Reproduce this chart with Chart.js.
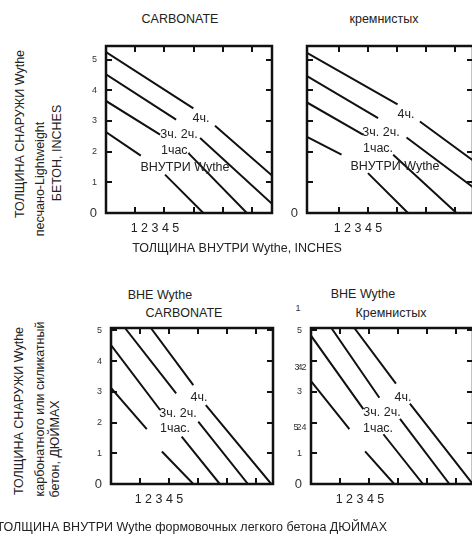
<!DOCTYPE html>
<html>
<head>
<meta charset="utf-8">
<script src="https://cdn.jsdelivr.net/npm/chart.js@4.4.0/dist/chart.umd.min.js"></script>
<style>
  html, body { margin: 0; padding: 0; background: #fff; overflow: hidden; }
  body { width: 472px; height: 537px; position: relative; font-family: "Liberation Sans", Arial, sans-serif; color: #222; }
  canvas { position: absolute; }
  .t { position: absolute; white-space: nowrap; transform: translate(-50%, -50%); font-size: 12.5px; line-height: 1; z-index: 2; }
  .r { transform: translate(-50%, -50%) rotate(-90deg); }
  .s { font-size: 9px; color: #333; }
</style>
</head>
<body>

<canvas id="p1" width="194" height="185" style="left:82px;top:38px"></canvas>
<canvas id="p2" width="194" height="185" style="left:283px;top:38px"></canvas>
<canvas id="p3" width="190" height="174" style="left:87px;top:320px"></canvas>
<canvas id="p4" width="190" height="174" style="left:287px;top:320px"></canvas>

<!-- верхняя пара -->
<div class="t" style="left:180px;top:19px">CARBONATE</div>
<div class="t" style="left:384px;top:19px">кремнистых</div>
<div class="t r" style="left:20px;top:134px">ТОЛЩИНА СНАРУЖИ Wythe</div>
<div class="t r" style="left:40px;top:179px">песчано-Lightweight</div>
<div class="t r" style="left:57px;top:153px">БЕТОН, INCHES</div>
<div class="t xt" style="left:155px;top:228px"></div>
<div class="t xt" style="left:358px;top:228px"></div>
<div class="t" style="left:237px;top:248px">ТОЛЩИНА ВНУТРИ Wythe, INCHES</div>

<div class="t" style="left:201px;top:118px">4ч.</div>
<div class="t" style="left:179px;top:134px">3ч. 2ч.</div>
<div class="t" style="left:176px;top:150px">1час.</div>
<div class="t" style="left:185px;top:167px">ВНУТРИ Wythe</div>

<div class="t" style="left:406px;top:114px">4ч.</div>
<div class="t" style="left:381px;top:132px">3ч. 2ч.</div>
<div class="t" style="left:378px;top:148px">1час.</div>
<div class="t" style="left:395px;top:166px">ВНУТРИ Wythe</div>

<!-- нижняя пара -->
<div class="t" style="left:160px;top:295px">ВНЕ Wythe</div>
<div class="t" style="left:184px;top:313px">CARBONATE</div>
<div class="t" style="left:363px;top:294px">ВНЕ Wythe</div>
<div class="t" style="left:391px;top:313px">Кремнистых</div>
<div class="t s" style="left:298px;top:308px">1</div>
<div class="t s" style="left:297px;top:367px">3</div>
<div class="t s" style="left:300px;top:367px">4</div>
<div class="t s" style="left:304px;top:367px">2</div>
<div class="t s" style="left:296px;top:427px">5</div>
<div class="t s" style="left:299px;top:427px">2</div>
<div class="t s" style="left:304px;top:427px">4</div>
<div class="t r" style="left:19px;top:411px">ТОЛЩИНА СНАРУЖИ Wythe</div>
<div class="t r" style="left:40px;top:409px">карбонатного или силикатный</div>
<div class="t r" style="left:55px;top:449px">бетон, ДЮЙМАХ</div>
<div class="t xt" style="left:159px;top:499px"></div>
<div class="t xt" style="left:360px;top:499px"></div>

<div class="t" style="left:199px;top:397px">4ч.</div>
<div class="t" style="left:178px;top:413px">3ч. 2ч.</div>
<div class="t" style="left:175px;top:428px">1час.</div>

<div class="t" style="left:403px;top:397px">4ч.</div>
<div class="t" style="left:382px;top:412px">3ч. 2ч.</div>
<div class="t" style="left:378px;top:428px">1час.</div>

<div class="t" style="left:auto;right:85px;top:527px;transform:translate(0,-50%)">ТОЛЩИНА ВНУТРИ Wythe формовочных легкого бетона ДЮЙМАХ</div>

<script>
// деления на рамках и подписи
const tickValues = [1, 2, 3, 4, 5];
const xTickText = ['1', '2', '3', '4', '5'];
const yTicksFull = [0, 1, 2, 3, 4, 5];
const yTicksZero = [0];
const yTicksSilica = [0, 1, 3, 5];

// линии огнестойкости (4ч., 3ч., 2ч., 1час.), null = разрыв под подпись
const topCarbonate4h = [[0, 5.24], [2.99, 3.41], null, [3.73, 2.84], [5.68, 1.22]];
const topCarbonate3h = [[0, 4.52], [2.40, 3.04], null, [3.22, 2.44], [5.68, 0.30]];
const topCarbonate2h = [[0, 3.65], [1.85, 2.55], null, [2.82, 1.95], [4.82, 0]];
const topCarbonate1h = [[0, 2.64], [1.19, 1.87], null, [2.02, 1.25], [3.33, 0]];

const topSilica4h = [[-0.1, 5.22], [3.02, 3.54], null, [3.79, 2.98], [5.62, 1.71]];
const topSilica3h = [[-0.1, 4.46], [2.35, 3.09], null, [3.33, 2.46], [5.62, 0.84]];
const topSilica2h = [[-0.1, 3.60], [1.83, 2.55], null, [2.87, 1.90], [5.05, 0]];
const topSilica1h = [[-0.1, 2.48], [1.09, 1.90], null, [2.00, 1.30], [3.38, 0]];

const bottomCarbonate4h = [[1.37, 5.08], [2.83, 3.22], null, [3.26, 2.57], [5.51, 0]];
const bottomCarbonate3h = [[0.48, 5.08], [2.24, 2.95], null, [3.00, 2.03], [4.71, 0]];
const bottomCarbonate2h = [[0, 4.52], [1.69, 2.41], null, [2.43, 1.54], [3.74, 0]];
const bottomCarbonate1h = [[0, 3.13], [1.23, 1.79], null, [1.75, 1.06], [2.83, 0]];

const bottomSilica4h = [[1.49, 5.08], [2.92, 3.27], null, [3.40, 2.62], [5.56, 0]];
const bottomSilica3h = [[0.70, 5.08], [2.35, 2.81], null, [3.06, 2.12], [4.76, 0]];
const bottomSilica2h = [[0, 4.83], [1.80, 2.44], null, [2.49, 1.62], [3.85, 0]];
const bottomSilica1h = [[0, 3.35], [1.32, 1.79], null, [1.86, 1.06], [2.86, 0]];

const FONT = '"Liberation Sans", Arial, sans-serif';

// рамка с делениями внутрь
const framePlugin = {
    id: 'frame',
    afterDatasetsDraw(chart) {
        const ctx = chart.ctx;
        const a = chart.chartArea;
        const x = chart.scales.x;
        const y = chart.scales.y;
        ctx.save();
        ctx.strokeStyle = '#111';
        ctx.lineWidth = 2;
        ctx.beginPath();
        tickValues.forEach(v => {
            if (v > x.min && v < x.max) {
                const px = Math.round(x.getPixelForValue(v));
                ctx.moveTo(px, a.top); ctx.lineTo(px, a.top + 6);
                ctx.moveTo(px, a.bottom); ctx.lineTo(px, a.bottom - 6);
            }
            if (v > y.min && v < y.max) {
                const py = Math.round(y.getPixelForValue(v));
                ctx.moveTo(a.left, py); ctx.lineTo(a.left + 6, py);
                ctx.moveTo(a.right, py); ctx.lineTo(a.right - 6, py);
            }
        });
        ctx.stroke();
        ctx.lineWidth = 2.5;
        ctx.strokeRect(a.left, a.top, a.right - a.left, a.bottom - a.top);
        ctx.restore();
    }
};

function crearPanel(id, lines, xMin, xMax, yMax, yTicks) {
    const ctx = document.getElementById(id).getContext('2d');
    new Chart(ctx, {
        type: 'scatter',
        data: {
            datasets: lines.map(line => ({
                data: line.map(p => p ? { x: p[0], y: p[1] } : { x: null, y: null }),
                showLine: true,
                spanGaps: false,
                borderColor: '#111',
                borderWidth: 2,
                pointRadius: 0,
                pointHoverRadius: 0
            }))
        },
        options: {
            responsive: false,
            animation: false,
            devicePixelRatio: 1,
            events: [],
            layout: { padding: { left: 0, top: 8, right: 4, bottom: 10 } },
            plugins: { legend: { display: false }, tooltip: { enabled: false } },
            scales: {
                x: { type: 'linear', display: false, min: xMin, max: xMax },
                y: {
                    type: 'linear',
                    min: 0,
                    max: yMax,
                    grid: { display: false, drawTicks: false },
                    border: { display: false },
                    afterBuildTicks: s => { s.ticks = yTicks.map(v => ({ value: v })); },
                    afterFit: s => {
                        s.width = 24;
                        s.paddingTop = 0;
                        s.paddingBottom = 0;
                    },
                    ticks: {
                        autoSkip: false,
                        padding: 9,
                        color: '#333',
                        font: c => ({ family: FONT, size: c.tick && c.tick.value === 0 ? 13 : 9 })
                    }
                }
            }
        },
        plugins: [framePlugin]
    });
}

document.querySelectorAll('.xt').forEach(el => { el.textContent = xTickText.join(' '); });

crearPanel('p1', [topCarbonate4h, topCarbonate3h, topCarbonate2h, topCarbonate1h], 0, 5.68, 5.44, yTicksFull);
crearPanel('p2', [topSilica4h, topSilica3h, topSilica2h, topSilica1h], -0.1, 5.62, 5.44, yTicksZero);
crearPanel('p3', [bottomCarbonate4h, bottomCarbonate3h, bottomCarbonate2h, bottomCarbonate1h], 0, 5.57, 5.08, yTicksFull);
crearPanel('p4', [bottomSilica4h, bottomSilica3h, bottomSilica2h, bottomSilica1h], 0, 5.57, 5.08, yTicksSilica);
</script>
</body>
</html>
